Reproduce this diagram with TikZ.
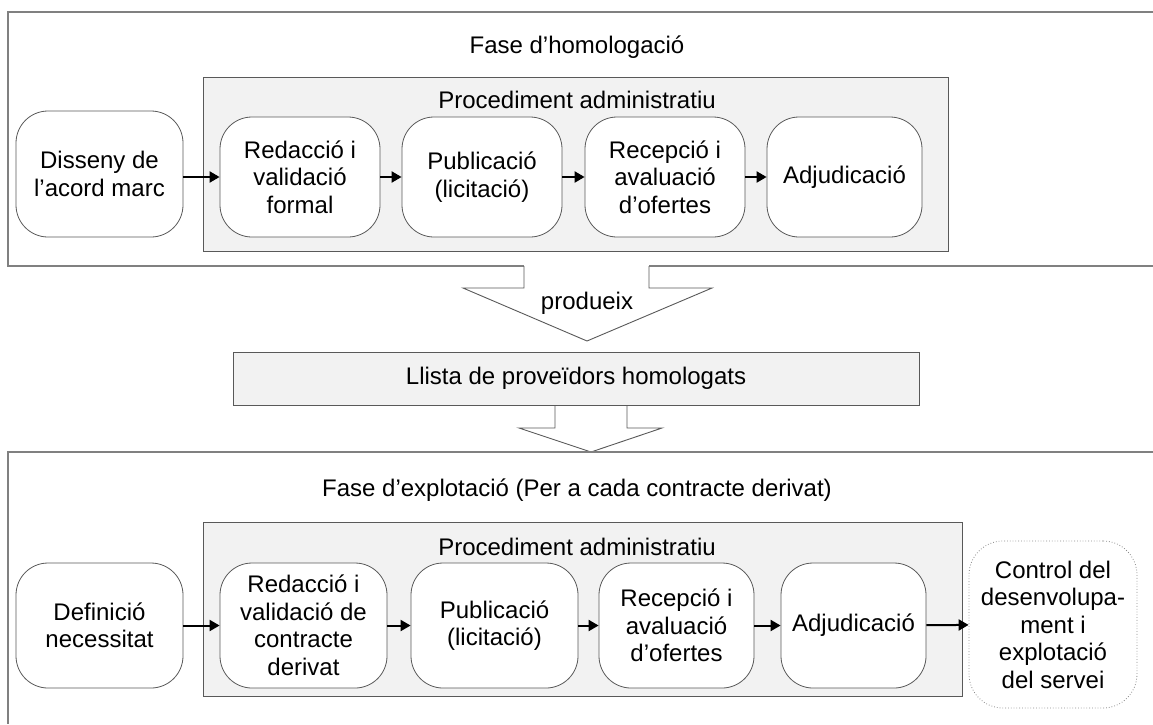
\documentclass[tikz,border=0pt]{standalone}
\usepackage{fontspec}
\setmainfont{Liberation Sans}
\usetikzlibrary{arrows.meta}
\begin{document}
\begin{tikzpicture}[x=1pt,y=-1pt,
  every node/.style={font=\fontsize{24}{27.5}\selectfont},
  frameline/.style={draw=black!50, line width=1.1pt},
  shapeline/.style={draw=black!65, line width=0.9pt},
  procbox/.style={draw=black!65, fill=black!5, line width=0.9pt, inner sep=0pt},
  stepbox/.style={draw=black!65, fill=white, line width=0.8pt, rounded corners=32pt,
                  align=center, inner sep=2pt},
  endbox/.style={draw=black!45, dotted, fill=white, line width=0.8pt, rounded corners=34pt,
                 align=center, inner sep=2pt},
  flow/.style={-{Triangle[length=10pt,width=11pt]}, line width=2pt, black}
]
\useasboundingbox (0,0) rectangle (1153,724);

% ---- upper phase frame (open at the right) ----
\draw[frameline] (1153,12) -- (8,12) -- (8,266) -- (524,266);
\draw[frameline] (649,266) -- (1153,266);
\node (t1) at (577,47) {Fase d’homologació};

\node[procbox, minimum width=745pt, minimum height=174pt] (g1) at (575.5,164) {};
\node (pa1) at (577,100) {Procediment administratiu};

\node[stepbox, minimum width=167pt, minimum height=126pt] (dis) at (99.5,174) {Disseny de\\l’acord marc};
\node[stepbox, minimum width=160pt, minimum height=120pt] (r1) at (300,177) {Redacció i\\validació\\formal};
\node[stepbox, minimum width=160pt, minimum height=120pt] (p1) at (482,177) {Publicació\\(licitació)};
\node[stepbox, minimum width=160pt, minimum height=120pt] (e1) at (665,177) {Recepció i\\avaluació\\d’ofertes};
\node[stepbox, minimum width=155pt, minimum height=120pt] (a1) at (844.5,177) {Adjudicació};

\draw[flow] (r1.west -| dis.east) -- (r1.west);
\draw[flow] (r1) -- (p1);
\draw[flow] (p1) -- (e1);
\draw[flow] (e1) -- (a1);

% ---- block arrow "produeix" ----
\filldraw[shapeline, fill=white] (524,266) -- (524,288) -- (463,288) -- (587,341)
  -- (712,288) -- (649,288) -- (649,266);
\node (prod) at (587,303) {produeix};

% ---- block arrow below the list, drawn first so the list border stays on top ----
\filldraw[shapeline, fill=white] (555,404) -- (555,428) -- (519,428) -- (591,452)
  -- (662,428) -- (627,428) -- (627,404);

% ---- list of suppliers ----
\node[procbox, minimum width=686pt, minimum height=53pt] (llista) at (576,378.5) {Llista de proveïdors homologats};

% ---- lower phase frame (open at the right and bottom) ----
\draw[frameline] (1153,452) -- (8,452) -- (8,724);
\node (t2) at (577,490) {Fase d’explotació (Per a cada contracte derivat)};

\node[procbox, minimum width=759pt, minimum height=174pt] (g2) at (582.5,609) {};
\node (pa2) at (577,547) {Procediment administratiu};

\node[stepbox, minimum width=167pt, minimum height=125pt] (def) at (99.5,625.5) {Definició\\necessitat};
\node[stepbox, minimum width=167pt, minimum height=125pt] (r2) at (303.5,625.5) {Redacció i\\validació de\\contracte\\derivat};
\node[stepbox, minimum width=167pt, minimum height=125pt] (p2) at (494.5,625.5) {Publicació\\(licitació)};
\node[stepbox, minimum width=155pt, minimum height=125pt] (e2) at (676.5,625.5) {Recepció i\\avaluació\\d’ofertes};
\node[stepbox, minimum width=145pt, minimum height=125pt] (a2) at (853.5,625.5) {Adjudicació};
\node[endbox, minimum width=168pt, minimum height=167pt] (ctl) at (1053,624.5) {Control del\\desenvolupa-\\ment i\\explotació\\del servei};

\draw[flow] (def) -- (r2);
\draw[flow] (r2) -- (p2);
\draw[flow] (p2) -- (e2);
\draw[flow] (e2) -- (a2);
\draw[flow] (a2) -- (ctl);
\end{tikzpicture}
\end{document}
